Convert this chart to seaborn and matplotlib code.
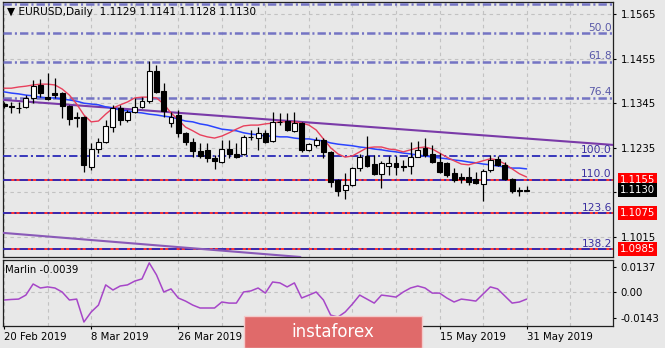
import matplotlib
matplotlib.use("Agg")
import matplotlib.pyplot as plt
import matplotlib.transforms as mtrans
from matplotlib.patches import Rectangle
import numpy as np
import pandas as pd
import seaborn as sns

# ---------------- data ----------------
dates = ["20 Feb 2019", "8 Mar 2019", "26 Mar 2019", "15 May 2019", "31 May 2019"]
date_bars = [0, 12, 24, 60, 72]

opens = [1.1343, 1.1337, 1.1334, 1.1336, 1.1358, 1.1390, 1.1360, 1.1370, 1.1370, 1.1338,
         1.1311, 1.1311, 1.1188, 1.1232, 1.1249, 1.1286, 1.1333, 1.1304, 1.1323, 1.1336,
         1.1350, 1.1424, 1.1375, 1.1296, 1.1316, 1.1272, 1.1249, 1.1227, 1.1230, 1.1210,
         1.1200, 1.1232, 1.1220, 1.1220, 1.1262, 1.1259, 1.1272, 1.1252, 1.1299, 1.1301,
         1.1277, 1.1296, 1.1230, 1.1242, 1.1254, 1.1225, 1.1156, 1.1131, 1.1143, 1.1185,
         1.1215, 1.1195, 1.1171, 1.1190, 1.1198, 1.1189, 1.1190, 1.1212, 1.1235, 1.1220,
         1.1200, 1.1198, 1.1173, 1.1163, 1.1163, 1.1158, 1.1146, 1.1180, 1.1208, 1.1193,
         1.1158, 1.1130, 1.1129]
highs = [1.1348, 1.1348, 1.1348, 1.1365, 1.1402, 1.1405, 1.1420, 1.1407, 1.1372, 1.1340,
         1.1323, 1.1314, 1.1247, 1.1259, 1.1304, 1.1341, 1.1341, 1.1328, 1.1358, 1.1360,
         1.1449, 1.1439, 1.1395, 1.1323, 1.1328, 1.1274, 1.1259, 1.1247, 1.1247, 1.1217,
         1.1254, 1.1254, 1.1247, 1.1267, 1.1279, 1.1286, 1.1279, 1.1323, 1.1321, 1.1321,
         1.1323, 1.1298, 1.1247, 1.1262, 1.1259, 1.1227, 1.1158, 1.1173, 1.1188, 1.1220,
         1.1264, 1.1217, 1.1203, 1.1215, 1.1215, 1.1205, 1.1249, 1.1252, 1.1259, 1.1242,
         1.1222, 1.1200, 1.1185, 1.1173, 1.1188, 1.1175, 1.1183, 1.1217, 1.1215, 1.1200,
         1.1161, 1.1139, 1.1141]
lows = [1.1333, 1.1321, 1.1321, 1.1333, 1.1346, 1.1360, 1.1353, 1.1358, 1.1309, 1.1291,
        1.1286, 1.1175, 1.1180, 1.1222, 1.1247, 1.1274, 1.1291, 1.1299, 1.1321, 1.1333,
        1.1345, 1.1370, 1.1311, 1.1286, 1.1262, 1.1242, 1.1212, 1.1210, 1.1200, 1.1183,
        1.1198, 1.1210, 1.1210, 1.1217, 1.1254, 1.1230, 1.1247, 1.1249, 1.1291, 1.1277,
        1.1274, 1.1225, 1.1227, 1.1237, 1.1210, 1.1139, 1.1116, 1.1109, 1.1141, 1.1178,
        1.1188, 1.1168, 1.1136, 1.1168, 1.1168, 1.1178, 1.1170, 1.1212, 1.1212, 1.1198,
        1.1173, 1.1163, 1.1151, 1.1148, 1.1143, 1.1146, 1.1104, 1.1175, 1.1190, 1.1156,
        1.1124, 1.1116, 1.1128]
closes = [1.1338, 1.1335, 1.1332, 1.1358, 1.1387, 1.1370, 1.1355, 1.1365, 1.1338, 1.1306,
          1.1309, 1.1193, 1.1232, 1.1249, 1.1289, 1.1333, 1.1304, 1.1323, 1.1336, 1.1350,
          1.1424, 1.1373, 1.1326, 1.1311, 1.1272, 1.1249, 1.1227, 1.1215, 1.1210, 1.1203,
          1.1232, 1.1220, 1.1212, 1.1262, 1.1261, 1.1272, 1.1249, 1.1299, 1.1298, 1.1279,
          1.1296, 1.1230, 1.1245, 1.1254, 1.1225, 1.1151, 1.1129, 1.1143, 1.1185, 1.1212,
          1.1190, 1.1171, 1.1198, 1.1198, 1.1188, 1.1188, 1.1212, 1.1230, 1.1217, 1.1200,
          1.1175, 1.1168, 1.1156, 1.1158, 1.1151, 1.1148, 1.1178, 1.1205, 1.1193, 1.1158,
          1.1129, 1.1128, 1.1130]

ma_fast = [1.1382, 1.1382, 1.1385, 1.1387, 1.1390, 1.1392, 1.1392, 1.1390, 1.1380, 1.1365,
           1.1343, 1.1316, 1.1299, 1.1301, 1.1318, 1.1333, 1.1341, 1.1348, 1.1358, 1.1360,
           1.1360, 1.1358, 1.1343, 1.1321, 1.1304, 1.1286, 1.1277, 1.1267, 1.1262, 1.1259,
           1.1264, 1.1272, 1.1281, 1.1289, 1.1291, 1.1291, 1.1294, 1.1296, 1.1299, 1.1299,
           1.1299, 1.1296, 1.1291, 1.1279, 1.1257, 1.1235, 1.1220, 1.1212, 1.1215, 1.1225,
           1.1235, 1.1237, 1.1237, 1.1232, 1.1230, 1.1225, 1.1230, 1.1235, 1.1237, 1.1232,
           1.1222, 1.1212, 1.1203, 1.1195, 1.1193, 1.1198, 1.1203, 1.1208, 1.1205, 1.1195,
           1.1183, 1.1171, 1.1163]
ma_slow = [1.1373, 1.1370, 1.1368, 1.1365, 1.1363, 1.1360, 1.1358, 1.1358, 1.1355, 1.1353,
           1.1350, 1.1345, 1.1343, 1.1341, 1.1336, 1.1333, 1.1328, 1.1326, 1.1323, 1.1321,
           1.1318, 1.1316, 1.1313, 1.1311, 1.1306, 1.1301, 1.1299, 1.1294, 1.1291, 1.1286,
           1.1281, 1.1279, 1.1277, 1.1272, 1.1269, 1.1267, 1.1264, 1.1264, 1.1262, 1.1262,
           1.1259, 1.1257, 1.1257, 1.1254, 1.1252, 1.1247, 1.1244, 1.1242, 1.1240, 1.1237,
           1.1235, 1.1232, 1.1230, 1.1227, 1.1225, 1.1222, 1.1220, 1.1217, 1.1215, 1.1212,
           1.1210, 1.1208, 1.1205, 1.1203, 1.1200, 1.1198, 1.1195, 1.1193, 1.1190, 1.1188,
           1.1185, 1.1185, 1.1183]

marlin = [-0.0044, -0.0041, -0.0039, -0.0017, 0.0044, 0.0022, 0.0028, 0.0022, 0.0000, -0.0044,
          -0.0039, -0.0165, -0.0110, -0.0072, 0.0039, 0.0011, 0.0033, 0.0039, 0.0060, 0.0072,
          0.0160, 0.0094, 0.0000, 0.0017, -0.0033, -0.0050, -0.0072, -0.0088, -0.0088, -0.0088,
          -0.0055, -0.0061, -0.0061, 0.0000, 0.0006, 0.0022, -0.0006, 0.0055, 0.0050, 0.0028,
          0.0050, -0.0033, -0.0017, 0.0000, -0.0044, -0.0127, -0.0138, -0.0110, -0.0066, -0.0017,
          -0.0039, -0.0061, -0.0017, -0.0022, -0.0028, 0.0000, 0.0022, 0.0033, 0.0022, -0.0006,
          -0.0006, -0.0033, -0.0055, -0.0039, -0.0044, -0.0050, -0.0011, 0.0028, 0.0017, -0.0022,
          -0.0061, -0.0055, -0.0039]

fib_levels = [38.2, 50.0, 61.8, 76.4, 100.0, 110.0, 123.6, 138.2]
fib_prices = [1.1589, 1.1518, 1.1447, 1.1359, 1.1216, 1.1156, 1.1073, 1.0985]
level_prices = [1.1155, 1.1075, 1.0985]
bid_price = 1.1130
trend_upper = [(0, 1.1353), (84, 1.1242)]
trend_lower = [(0, 1.1025), (84, 1.0903)]
price_ticks = [1.1565, 1.1455, 1.1345, 1.1235, 1.1125, 1.1015]
price_tick_labels = ["1.1565", "1.1455", "1.1345", "1.1235", "", "1.1015"]
osc_ticks = [0.0137, 0.0, -0.0143]
osc_tick_labels = ["0.0137", "0.00", "-0.0143"]
title_text = "EURUSD,Daily  1.1129 1.1141 1.1128 1.1130"
osc_title = "Marlin -0.0039"

# ---------------- style ----------------
sns.set_theme(style="white")
plt.rcParams['font.family'] = ['DejaVu Sans']
plt.rcParams['lines.scale_dashes'] = False
FS = 7.3
BG = "#e8e8e8"
W, H = 665, 348

fig = plt.figure(figsize=(W / 100, H / 100), dpi=100, facecolor=BG)


def axrect(l, t, r, b):
    return [l / W, 1 - b / H, (r - l) / W, (b - t) / H]


ax = fig.add_axes(axrect(3, 2, 613, 257))
ax2 = fig.add_axes(axrect(3, 260, 613, 326))

for a in (ax, ax2):
    a.set_facecolor(BG)
    for s in a.spines.values():
        s.set_color("#202020")
        s.set_linewidth(0.9)
    a.set_xlim(-0.15, 83.9)

ax.set_ylim(1.09657, 1.15946)
ax2.set_ylim(-0.0187, 0.0176)

bars = np.arange(len(closes))
df = pd.DataFrame({"bar": bars, "open": opens, "high": highs, "low": lows,
                   "close": closes, "fast": ma_fast, "slow": ma_slow, "marlin": marlin})

grid_kw = dict(color="#c2c2c2", lw=0.8, ls=(0, (2.5, 2.5)), zorder=0.5)
for g in range(0, 85, 6):
    ax.axvline(g, **grid_kw)
    ax2.axvline(g, **grid_kw)
for p in price_ticks:
    ax.axhline(p, **grid_kw)
ax2.axhline(0, **grid_kw)

# horizontal support/resistance (red)
for p in level_prices:
    ax.axhline(p, color="#ff1010", lw=1.2, zorder=2.4)

# fibonacci levels
tr = mtrans.blended_transform_factory(ax.transAxes, ax.transData)
for lvl, p in zip(fib_levels, fib_prices):
    if lvl < 100:
        col, lw, tcol = "#7474c4", 1.8, "#5858a8"
    else:
        col, lw, tcol = "#2a2ab8", 1.3, "#3a2fa0"
    ax.axhline(p, color=col, lw=lw, ls=(0, (6, 2.2, 1.5, 2.2)), zorder=2.6)
    if lvl != 38.2:
        ax.text(0.998, p + 0.0001, f"{lvl:.1f}", transform=tr, ha="right", va="bottom",
                fontsize=FS + 0.4, color=tcol, zorder=6)

# trend lines
ax.axline(trend_upper[0], trend_upper[1], color="#7a3aa8", lw=1.5, zorder=2.7)
ax.axline(trend_lower[0], trend_lower[1], color="#8a5ab8", lw=1.5, zorder=2.7)

# moving averages
sns.lineplot(data=df, x="bar", y="slow", ax=ax, color="#2a44ff", lw=1.1, zorder=3, legend=False)
sns.lineplot(data=df, x="bar", y="fast", ax=ax, color="#e8405c", lw=1.0, zorder=3.1, legend=False)

# candles
o = df["open"].to_numpy()
c = df["close"].to_numpy()
up = c >= o
body_low = np.minimum(o, c)
body_h = np.maximum(np.abs(c - o), 0.00004)
ax.vlines(df["bar"], df["low"], df["high"], color="black", lw=0.9, zorder=4)
ax.bar(df["bar"], body_h, bottom=body_low, width=0.68,
       color=np.where(up, "white", "black"), edgecolor="black", linewidth=0.8, zorder=5)

# axes labels / ticks
ax.set_xlabel("")
ax.set_ylabel("")
ax.set_xticks([])
ax.yaxis.tick_right()
ax.set_yticks(price_ticks)
ax.set_yticklabels(price_tick_labels)
ax.tick_params(axis="y", direction="out", length=2.5, width=0.8, pad=3,
               labelsize=FS, colors="black", right=True, left=False)

for p in level_prices:
    ax.text(1.0115, p, f"{p:.4f}", transform=tr, ha="left", va="center", fontsize=FS,
            color="white", bbox=dict(boxstyle="square,pad=0.2", fc="#ff0000", ec="none"),
            zorder=20, clip_on=False)
ax.text(1.0115, bid_price, f"{bid_price:.4f}", transform=tr, ha="left", va="center",
        fontsize=FS, color="white",
        bbox=dict(boxstyle="square,pad=0.2", fc="black", ec="none"), zorder=21, clip_on=False)

ax.text(0.0066, 0.961, "\u25BC " + title_text, transform=ax.transAxes, ha="left",
        va="center", fontsize=FS + 0.3, color="black", zorder=10)

# oscillator
sns.lineplot(data=df, x="bar", y="marlin", ax=ax2, color="#a646c8", lw=1.1, legend=False)
ax2.set_xlabel("")
ax2.set_ylabel("")
ax2.yaxis.tick_right()
ax2.set_yticks(osc_ticks)
ax2.set_yticklabels(osc_tick_labels)
ax2.set_xticks(date_bars)
ax2.set_xticklabels(dates, ha="left")
ax2.tick_params(axis="y", direction="out", length=2.5, width=0.8, pad=3,
                labelsize=FS, colors="black", right=True, left=False)
ax2.tick_params(axis="x", direction="out", length=2.5, width=0.8, pad=2,
                labelsize=FS, colors="black", bottom=True)
ax2.text(0.004, 0.85, osc_title, transform=ax2.transAxes, ha="left", va="center",
         fontsize=FS, color="black")

# watermark
fig.add_artist(Rectangle((244 / W, 0), 178 / W, 32 / H, transform=fig.transFigure,
                         fc="#e06a6a", ec="#f3caca", lw=1, zorder=10))
fig.text(333 / W, 1 - 332 / H, "instaforex", color="white", fontsize=12,
         ha="center", va="center", zorder=11)

fig.savefig("out.png", dpi=100, facecolor=BG)
